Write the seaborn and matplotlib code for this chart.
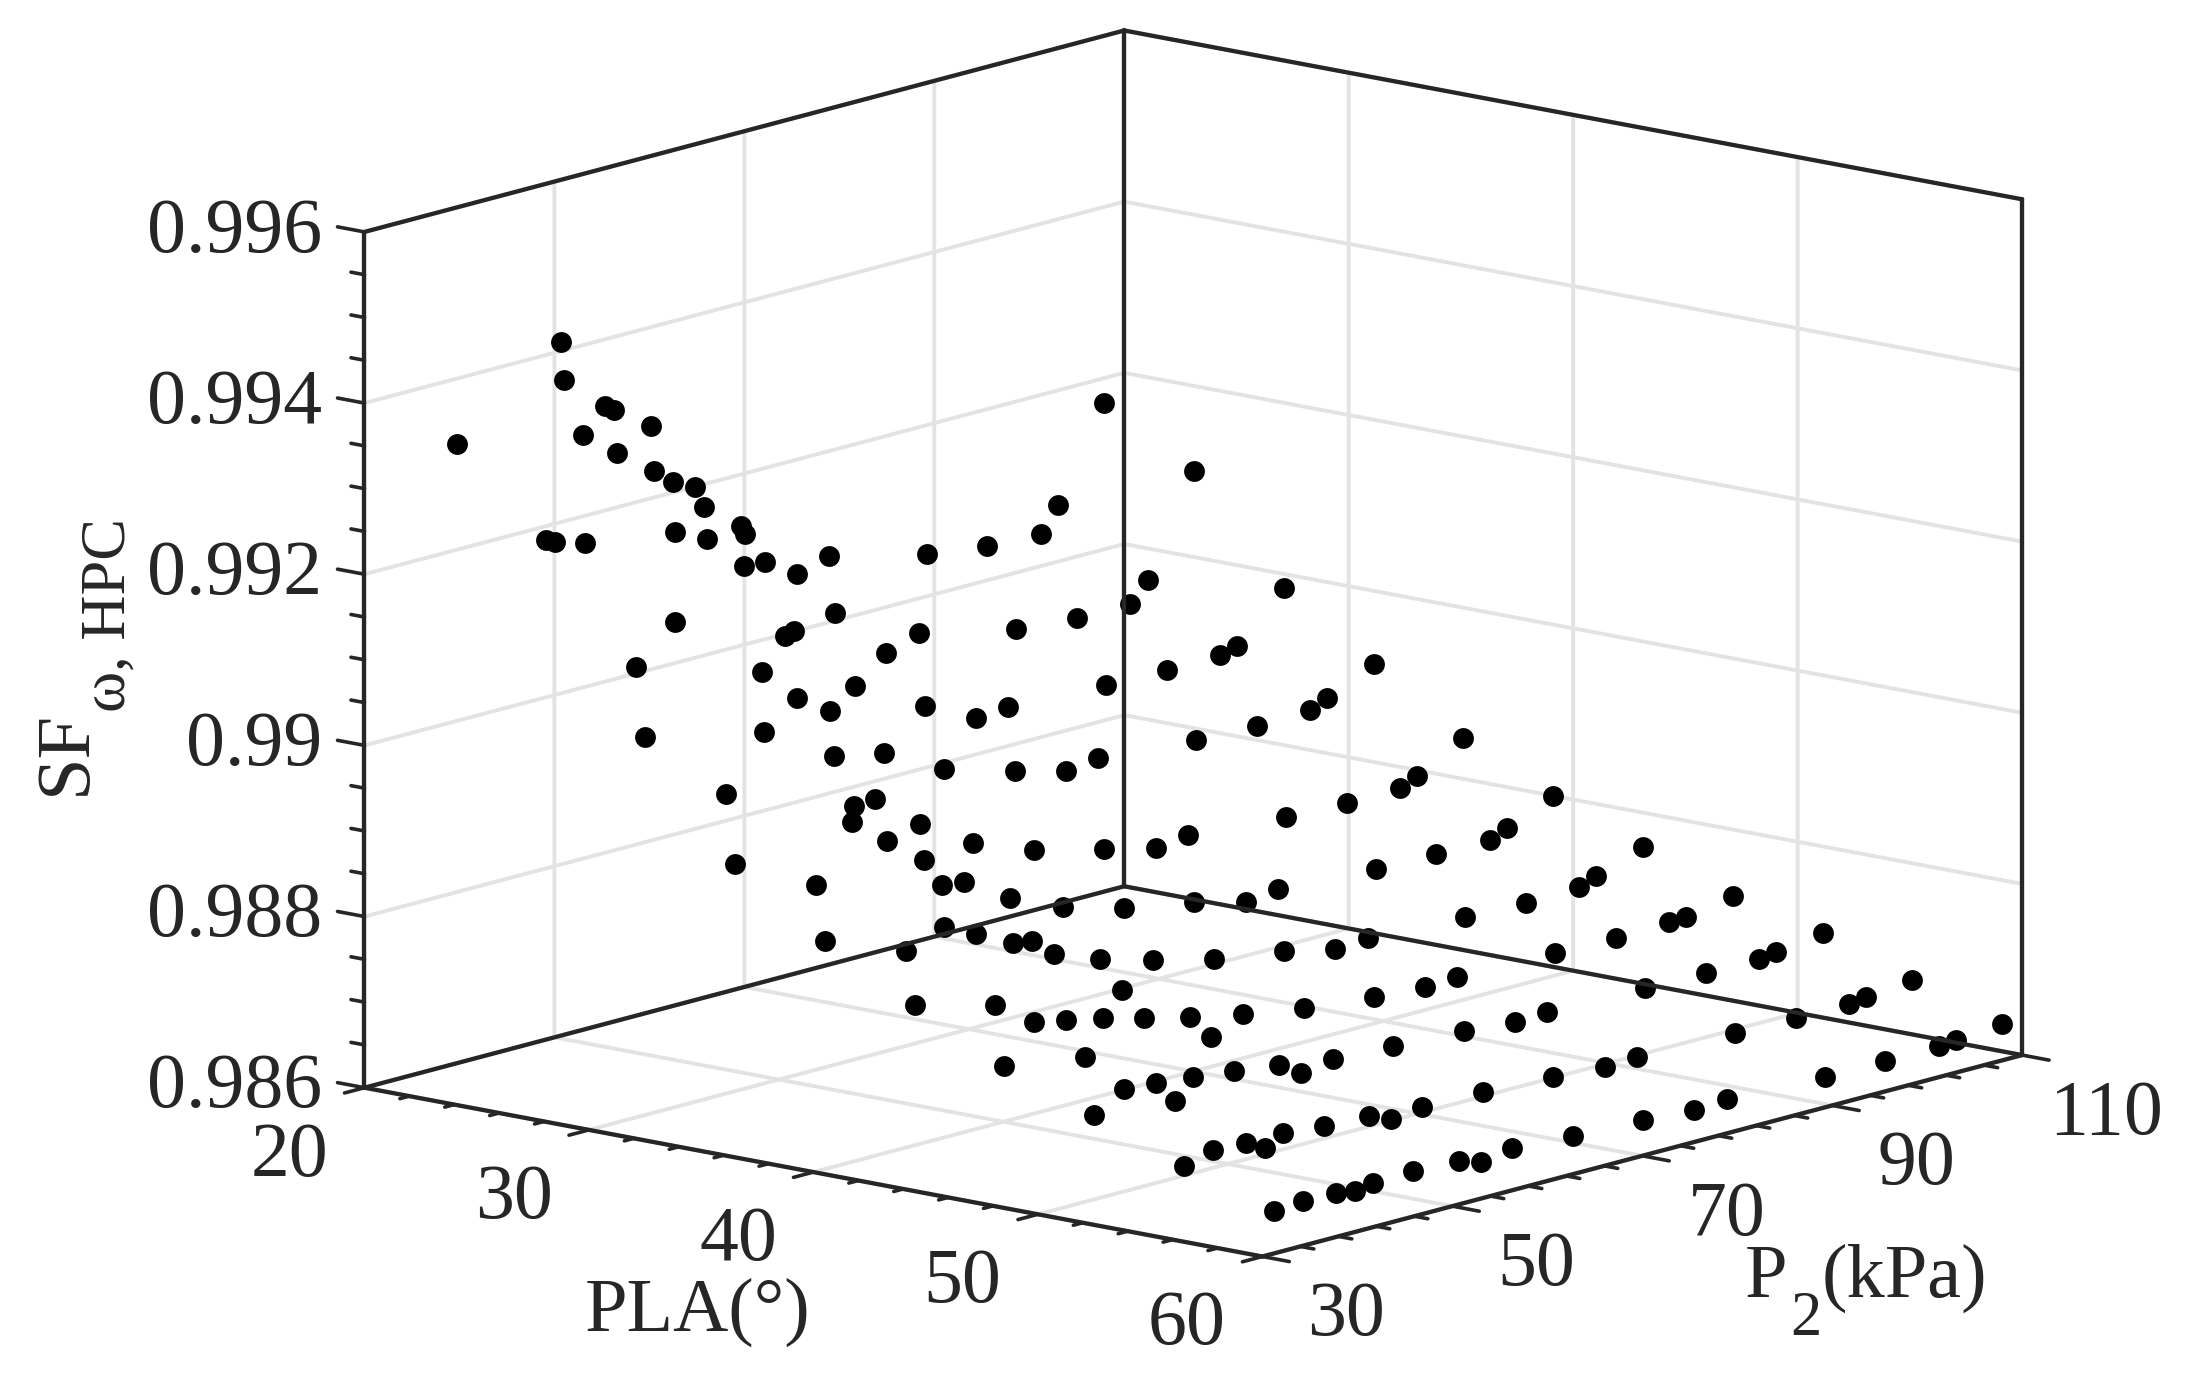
import numpy as np
import pandas as pd
import seaborn as sns
import matplotlib
matplotlib.use('Agg')
import matplotlib.pyplot as plt

# P2 values used on each PLA sweep
p2_levels = [31.2, 34.3, 37.7, 39.7, 41.6, 45.9, 50.7, 53.0, 56.3, 62.7, 70.1, 75.5, 78.9, 89.2, 95.6, 101.2, 103.0, 107.9]

sf_pla60 = [0.98650, 0.98652, 0.98652, 0.98648, 0.98652, 0.98653, 0.98651, 0.98643, 0.98649, 0.98645, 0.98641, 0.98637, 0.98640, 0.98636, 0.98635, 0.98637, 0.98638, 0.98643]
sf_pla56 = [0.98683, 0.98692, 0.98690, 0.98678, 0.98690, 0.98686, 0.98683, 0.98673, 0.98678, 0.98676, 0.98672, 0.98668, 0.98669, 0.98667, 0.98666, 0.98666, 0.98669, 0.98674]
sf_pla52 = [0.98722, 0.98744, 0.98741, 0.98714, 0.98736, 0.98730, 0.98723, 0.98707, 0.98714, 0.98710, 0.98706, 0.98701, 0.98702, 0.98700, 0.98699, 0.98699, 0.98702, 0.98709]
sf_pla48 = [0.98760, 0.98802, 0.98795, 0.98745, 0.98785, 0.98773, 0.98760, 0.98730, 0.98747, 0.98735, 0.98726, 0.98722, 0.98723, 0.98721, 0.98720, 0.98722, 0.98723, 0.98733]
sf_pla44 = [0.98811, 0.98894, 0.98875, 0.98787, 0.98853, 0.98828, 0.98808, 0.98765, 0.98790, 0.98772, 0.98760, 0.98746, 0.98749, 0.98744, 0.98741, 0.98743, 0.98751, 0.98771]
sf_pla40 = [0.98867, 0.99015, 0.98964, 0.98830, 0.98931, 0.98892, 0.98859, 0.98802, 0.98832, 0.98812, 0.98798, 0.98782, 0.98787, 0.98780, 0.98779, 0.98779, 0.98787, 0.98810]
sf_pla36 = [0.98937, 0.99082, 0.99112, 0.98887, 0.99032, 0.98969, 0.98926, 0.98848, 0.98888, 0.98861, 0.98840, 0.98825, 0.98830, 0.98821, 0.98818, 0.98820, 0.98828, 0.98858]
sf_pla32 = [0.99065, 0.99191, 0.99278, 0.98974, 0.99235, 0.99140, 0.99039, 0.98902, 0.98973, 0.98935, 0.98911, 0.98895, 0.98900, 0.98891, 0.98889, 0.98891, 0.98900, 0.98925]
sf_pla28 = [0.99274, 0.99263, 0.99358, 0.99103, 0.99326, 0.99295, 0.99235, 0.99058, 0.99096, 0.99013, 0.98967, 0.98938, 0.98941, 0.98936, 0.98935, 0.98936, 0.98941, 0.98994]
# the two lowest PLA sweeps have no points at the lowest pressures
p2_pla24 = [39.7, 41.6, 45.9, 50.7, 53.0, 56.3, 62.7, 70.1, 75.5, 78.9, 89.2, 95.6, 101.2, 103.0, 107.9]
sf_pla24 = [0.99231, 0.99412, 0.99369, 0.99332, 0.99260, 0.99221, 0.99138, 0.99057, 0.98994, 0.99007, 0.98981, 0.98976, 0.98976, 0.98998, 0.99111]
p2_pla20 = [39.7, 50.7, 53.0, 56.3, 62.7, 70.1, 75.5, 78.9, 89.2, 95.6, 101.2, 103.0, 107.9]
sf_pla20 = [0.99324, 0.99411, 0.99295, 0.99315, 0.99153, 0.99129, 0.99066, 0.99077, 0.99049, 0.99040, 0.99038, 0.99066, 0.99171]

pla_ticks = [20, 30, 40, 50, 60]
p2_ticks = [30, 50, 70, 90, 110]
sf_ticks = [0.986, 0.988, 0.99, 0.992, 0.994, 0.996]
sf_labels = ['0.986', '0.988', '0.99', '0.992', '0.994', '0.996']

rows = []
for pla, sf in [(60, sf_pla60), (56, sf_pla56), (52, sf_pla52), (48, sf_pla48), (44, sf_pla44),
                (40, sf_pla40), (36, sf_pla36), (32, sf_pla32), (28, sf_pla28)]:
    rows.append(pd.DataFrame({'pla': pla, 'p2': p2_levels, 'sf': sf}))
rows.append(pd.DataFrame({'pla': 24, 'p2': p2_pla24, 'sf': sf_pla24}))
rows.append(pd.DataFrame({'pla': 20, 'p2': p2_pla20, 'sf': sf_pla20}))
df = pd.concat(rows, ignore_index=True)

sns.set_theme(style='white')
ink = '#262626'
plt.rcParams['font.family'] = ['Liberation Serif']
plt.rcParams['grid.color'] = '#e3e3e3'
plt.rcParams['grid.linewidth'] = 2.8
plt.rcParams['text.color'] = ink
plt.rcParams['xtick.color'] = ink
plt.rcParams['ytick.color'] = ink

W, H = 2209, 1375
fig = plt.figure(figsize=(W / 100, H / 100), dpi=100, facecolor='white')
side = 1880
left, bottom = 227.9, -233.9
ax = fig.add_axes([left / W, bottom / H, side / W, side / H], projection='3d')
ax.set_proj_type('ortho')
ax.view_init(elev=12.9, azim=-49.9)
ax.set_box_aspect((833, 837, 623), zoom=1.405 * 1300 / side)
ax.set_xlim(20, 60, view_margin=0)
ax.set_ylim(30, 110, view_margin=0)
ax.set_zlim(0.986, 0.996, view_margin=0)
ax.set_facecolor('none')

for axis in (ax.xaxis, ax.yaxis, ax.zaxis):
    axis.set_pane_color((1, 1, 1, 0))
    axis.pane.set_edgecolor((1, 1, 1, 0))
    axis.line.set_color((1, 1, 1, 0))
    axis._axinfo['tick']['inward_factor'] = 0
    axis._axinfo['tick']['outward_factor'] = 0

ax.zaxis.set_ticks_position('lower')
ax.set_xticks(pla_ticks)
ax.set_yticks(p2_ticks)
ax.set_zticks(sf_ticks)
ax.set_xticklabels([str(t) for t in pla_ticks], ha='center', va='bottom')
ax.set_yticklabels([str(t) for t in p2_ticks], ha='center', va='bottom')
ax.set_zticklabels(sf_labels, ha='right', va='center')
ax.tick_params(axis='both', labelsize=56)
ax.tick_params(axis='x', pad=62)
ax.tick_params(axis='y', pad=58)
ax.tick_params(axis='z', pad=10, labelsize=56)

# box outline
xa, xb = 20, 60
ya, yb = 30, 110
za, zb = 0.986, 0.996
edges = [((xa, xb), (ya, ya), (za, za)), ((xb, xb), (ya, yb), (za, za)),
         ((xa, xa), (ya, yb), (za, za)), ((xa, xb), (yb, yb), (za, za)),
         ((xa, xa), (ya, ya), (za, zb)), ((xa, xa), (yb, yb), (za, zb)),
         ((xb, xb), (yb, yb), (za, zb)), ((xa, xa), (ya, yb), (zb, zb)),
         ((xa, xb), (yb, yb), (zb, zb))]
for ex, ey, ez in edges:
    ax.plot(ex, ey, ez, color=ink, lw=3.1, solid_capstyle='round', zorder=5)

# ticks are drawn by hand, mplot3d has no minor ticks
for v in np.arange(20, 60.1, 2):
    n = 2.1 if v % 10 == 0 else 1.0
    ax.plot((v, v), (30, 30 - n), (za, za), color=ink, lw=2.6)
for v in np.arange(30, 110.1, 4):
    n = 1.2 if (v - 30) % 20 == 0 else 0.6
    ax.plot((60, 60 + n), (v, v), (za, za), color=ink, lw=2.6)
for i in range(21):
    v = 0.986 + i * 0.0005
    n = 1.2 if i % 4 == 0 else 0.6
    ax.plot((20, 20 - n), (30, 30), (v, v), color=ink, lw=2.6)

ax.scatter(df['pla'], df['p2'], df['sf'], c='black', s=225, linewidths=0, depthshade=False, alpha=1, zorder=10)

fig.text(698 / W, 1 - 1312 / H, 'PLA(°)', fontsize=55, ha='center', va='center')
fig.text(1745 / W, 1 - 1297 / H, 'P', fontsize=55, ha='left', va='baseline')
fig.text(1790 / W, 1 - 1335 / H, '2', fontsize=45, ha='left', va='baseline')
fig.text(1822 / W, 1 - 1297 / H, '(kPa)', fontsize=55, ha='left', va='baseline')
fig.text(85 / W, 1 - 795 / H, 'SF', fontsize=55, rotation=90, rotation_mode='anchor', ha='left', va='baseline')
fig.text(125 / W, 1 - 712 / H, 'ω, HPC', fontsize=45, rotation=90, rotation_mode='anchor', ha='left', va='baseline')

fig.savefig('out.png', dpi=100)
